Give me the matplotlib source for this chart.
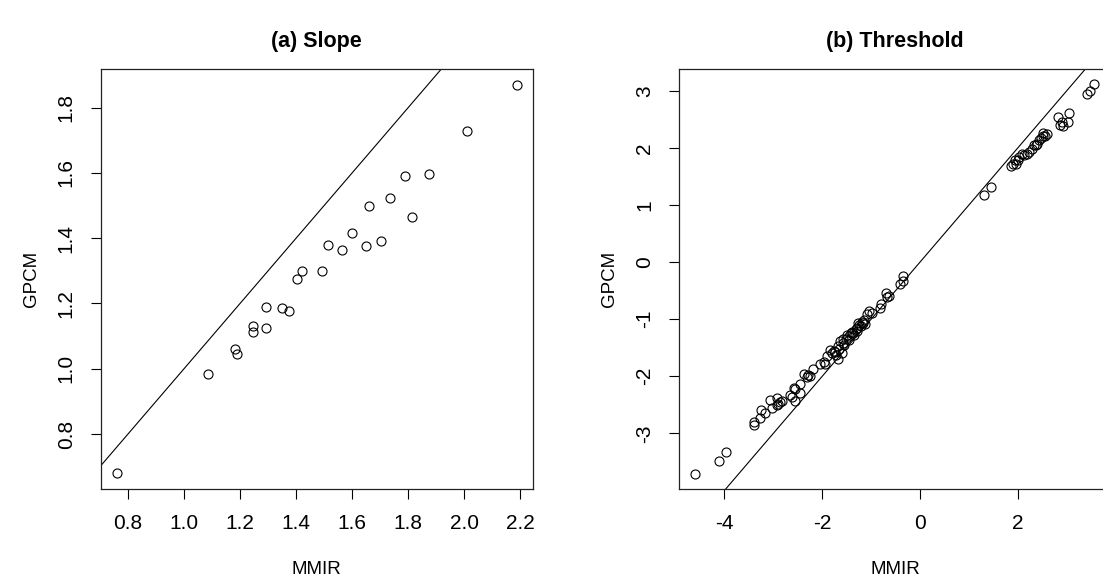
import numpy as np
import matplotlib
matplotlib.use("Agg")
import matplotlib.pyplot as plt

plt.rcParams['font.family'] = ['Liberation Sans', 'DejaVu Sans']

# (a) slope estimates: MMIR vs GPCM
slope_mmir = [0.761, 1.087, 1.182, 1.188, 1.247, 1.247, 1.292, 1.292, 1.351, 1.374,
              1.403, 1.422, 1.491, 1.512, 1.565, 1.600, 1.651, 1.661, 1.703, 1.734,
              1.787, 1.812, 1.873, 2.011, 2.187]
slope_gpcm = [0.680, 0.984, 1.062, 1.046, 1.130, 1.114, 1.189, 1.126, 1.185, 1.178,
              1.274, 1.301, 1.301, 1.380, 1.364, 1.417, 1.377, 1.499, 1.391, 1.522,
              1.590, 1.466, 1.597, 1.729, 1.870]

# (b) threshold estimates: MMIR vs GPCM
thr_mmir = [-4.60, -4.12, -3.97, -3.40, -3.40, -3.26, -3.28, -3.17, -3.07, -3.02,
            -2.93, -2.93, -2.86, -2.83, -2.90, -2.67, -2.62, -2.58, -2.55, -2.55,
            -2.45, -2.45, -2.37, -2.32, -2.30, -2.26, -2.18, -2.04, -1.97, -1.94,
            -1.91, -1.85, -1.81, -1.77, -1.75, -1.72, -1.68, -1.67, -1.65, -1.63,
            -1.60, -1.58, -1.57, -1.55, -1.52, -1.50, -1.46, -1.45, -1.42, -1.40,
            -1.38, -1.35, -1.32, -1.30, -1.29, -1.26, -1.24, -1.21, -1.19, -1.16,
            -1.14, -1.12, -1.09, -1.05, -0.99, -0.82, -0.79, -0.69, -0.67, -0.64,
            -0.41, -0.35, -0.34,
            1.30, 1.45, 1.86, 1.90, 1.94, 1.96, 2.00, 2.03, 2.09, 2.12,
            2.19, 2.22, 2.28, 2.32, 2.36, 2.40, 2.44, 2.48, 2.51, 2.52,
            2.55, 2.59, 2.83, 2.86, 2.90, 2.92, 3.03, 3.05, 3.41, 3.48, 3.55]
thr_gpcm = [-3.71, -3.49, -3.32, -2.80, -2.85, -2.59, -2.73, -2.65, -2.42, -2.55,
            -2.38, -2.50, -2.46, -2.44, -2.48, -2.33, -2.36, -2.21, -2.43, -2.22,
            -2.29, -2.14, -1.96, -2.01, -1.97, -1.99, -1.88, -1.79, -1.75, -1.79,
            -1.64, -1.54, -1.60, -1.55, -1.58, -1.62, -1.70, -1.47, -1.52, -1.38,
            -1.60, -1.42, -1.34, -1.45, -1.35, -1.28, -1.37, -1.30, -1.25, -1.22,
            -1.24, -1.28, -1.18, -1.20, -1.15, -1.06, -1.10, -1.12, -1.05, -1.07,
            -1.02, -1.08, -0.91, -0.86, -0.90, -0.81, -0.74, -0.54, -0.62, -0.60,
            -0.39, -0.25, -0.33,
            1.18, 1.31, 1.68, 1.72, 1.79, 1.71, 1.78, 1.84, 1.89, 1.87,
            1.90, 1.93, 1.98, 2.05, 2.05, 2.07, 2.14, 2.17, 2.21, 2.26,
            2.20, 2.25, 2.54, 2.40, 2.46, 2.38, 2.46, 2.61, 2.95, 3.00, 3.11]

fig = plt.figure(figsize=(11.03, 5.88), dpi=100)
W, H = 1103, 588
ax1 = fig.add_axes([100.7 / W, (H - 489) / H, 432.3 / W, 420 / H])
ax2 = fig.add_axes([679 / W, (H - 489) / H, 432.3 / W, 420 / H])


def style(ax, title):
    ax.set_title(title, fontsize=15.5, fontweight='bold', pad=16)
    ax.set_xlabel("MMIR", fontsize=13.5, labelpad=20)
    ax.set_ylabel("GPCM", fontsize=13.5, labelpad=12)
    ax.tick_params(direction='out', length=7, width=0.8, labelsize=15, pad=11)
    for lab in ax.get_yticklabels():
        lab.set_rotation(90)
        lab.set_va('center')
    for s in ax.spines.values():
        s.set_linewidth(0.9)
        s.set_color('#222222')


# (a) Slope
ax1.plot(slope_mmir, slope_gpcm, 'o', mfc='none', mec='black', ms=6.5, mew=0.8)
ax1.plot([0, 3], [0, 3], color='black', lw=0.8)
ax1.set_xlim(0.703, 2.245)
ax1.set_ylim(0.632, 1.918)
ax1.set_xticks([0.8, 1.0, 1.2, 1.4, 1.6, 1.8, 2.0, 2.2])
ax1.set_yticks([0.8, 1.0, 1.2, 1.4, 1.6, 1.8])
ax1.set_xticklabels(["0.8", "1.0", "1.2", "1.4", "1.6", "1.8", "2.0", "2.2"])
ax1.set_yticklabels(["0.8", "1.0", "1.2", "1.4", "1.6", "1.8"])
style(ax1, "(a) Slope")

# (b) Threshold
ax2.plot(thr_mmir, thr_gpcm, 'o', mfc='none', mec='black', ms=6.5, mew=0.8)
ax2.plot([-6, 5], [-6, 5], color='black', lw=0.8)
ax2.set_xlim(-4.93, 3.91)
ax2.set_ylim(-3.975, 3.38)
ax2.set_xticks([-4, -2, 0, 2])
ax2.set_yticks([-3, -2, -1, 0, 1, 2, 3])
ax2.set_xticklabels(["-4", "-2", "0", "2"])
ax2.set_yticklabels(["-3", "-2", "-1", "0", "1", "2", "3"])
style(ax2, "(b) Threshold")

fig.savefig("out.png", dpi=100)
